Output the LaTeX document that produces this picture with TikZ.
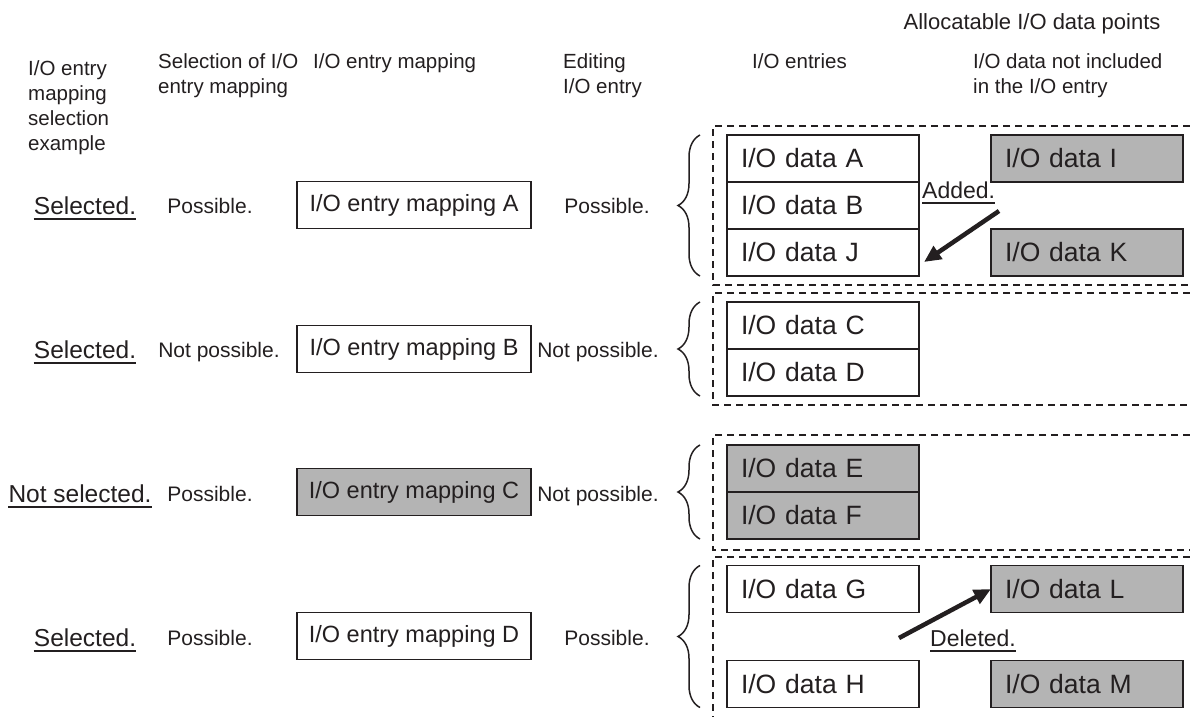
\documentclass[tikz,border=0pt]{standalone}
\usepackage{fontspec}
\setmainfont{Liberation Sans}
\usetikzlibrary{positioning,arrows.meta,decorations.pathreplacing}

\definecolor{ink}{RGB}{35,31,32}
\definecolor{boxgray}{RGB}{180,180,180}

\begin{document}
\begin{tikzpicture}[
    x=1pt, y=-1pt,
    databox/.style={rectangle, draw=ink, line width=1.3pt, fill=white, outer sep=0pt, minimum height=47pt, text width=164pt, inner xsep=14pt, inner ysep=0pt, align=left, text=ink, font=\fontsize{26.5}{30}\selectfont},
    greybox/.style={databox, fill=boxgray},
    mapbox/.style={rectangle, draw=ink, line width=1.3pt, fill=white, minimum width=234pt, minimum height=47pt, inner sep=0pt, text=ink, font=\fontsize{23.5}{27}\selectfont},
    head/.style={anchor=north west, align=left, inner sep=0pt, text=ink, font=\fontsize{20.5}{25}\selectfont},
    note/.style={anchor=base, inner sep=0pt, text=ink, font=\fontsize{21}{25}\selectfont},
    underlined/.style={append after command={([yshift=-5pt]\tikzlastnode.base west) edge[draw=ink, line width=1.6pt] ([yshift=-5pt]\tikzlastnode.base east)}},
    choice/.style={anchor=base, inner sep=0pt, text=ink, font=\fontsize{24.5}{29}\selectfont, underlined},
    remark/.style={anchor=base west, inner sep=0pt, text=ink, font=\fontsize{23}{28}\selectfont, underlined},
    frame/.style={draw=ink, line width=1.5pt, dash pattern=on 7pt off 5pt},
    curly/.style={draw=ink, line width=1.5pt, decorate, decoration={brace, amplitude=22pt}},
    bigarrow/.style={draw=ink, line width=4.5pt, -{Triangle[length=17pt,width=15pt]}}
]
    \useasboundingbox (0,0) rectangle (1190,717);

    % Headers
    \node [anchor=base, inner sep=0pt, text=ink, font=\fontsize{22}{26}\selectfont] (hdalloc) at (1032,30) {Allocatable I/O data points};
    \node [head] (hdsel) at (28,60) {I/O entry\\mapping\\selection\\example};
    \node [head] (hdchoice) at (158,53) {Selection of I/O\\entry mapping};
    \node [head] (hdmap) at (313,53) {I/O entry mapping};
    \node [head] (hdedit) at (563,53) {Editing\\I/O entry};
    \node [head] (hdentries) at (752,53) {I/O entries};
    \node [head] (hdfree) at (973,53) {I/O data not included\\in the I/O entry};

    % Left columns
    \node [choice] (sel1) at (85,214) {Selected.};
    \node [choice] (sel2) at (85,358) {Selected.};
    \node [choice] (sel3) at (80,502) {Not selected.};
    \node [choice] (sel4) at (85,646) {Selected.};

    \node [note] (pick1) at (210,213) {Possible.};
    \node [note] (pick2) at (219,357) {Not possible.};
    \node [note] (pick3) at (210,501) {Possible.};
    \node [note] (pick4) at (210,645) {Possible.};

    \node [mapbox] (mapA) at (414,205) {I/O entry mapping A};
    \node [mapbox] (mapB) at (414,349) {I/O entry mapping B};
    \node [mapbox, fill=boxgray] (mapC) at (414,492) {I/O entry mapping C};
    \node [mapbox] (mapD) at (414,636) {I/O entry mapping D};

    \node [note] (edit1) at (607,213) {Possible.};
    \node [note] (edit2) at (598,357) {Not possible.};
    \node [note] (edit3) at (598,501) {Not possible.};
    \node [note] (edit4) at (607,645) {Possible.};

    % I/O entries
    \node [databox] (dataA) at (823,158.5) {I/O data A};
    \node [databox, below=0pt of dataA] (dataB) {I/O data B};
    \node [databox, below=0pt of dataB] (dataJ) {I/O data J};
    \node [databox] (dataC) at (823,325.5) {I/O data C};
    \node [databox, below=0pt of dataC] (dataD) {I/O data D};
    \node [greybox] (dataE) at (823,468.5) {I/O data E};
    \node [greybox, below=0pt of dataE] (dataF) {I/O data F};
    \node [databox] (dataG) at (823,589) {I/O data G};
    \node [databox, below=48pt of dataG] (dataH) {I/O data H};

    % I/O data outside the entries
    \node [greybox, right=72pt of dataA] (dataI) {I/O data I};
    \node [greybox, right=72pt of dataJ] (dataK) {I/O data K};
    \node [greybox, right=72pt of dataG] (dataL) {I/O data L};
    \node [greybox, right=72pt of dataH] (dataM) {I/O data M};

    \node [remark] (added) at (922,198) {Added.};
    \node [remark] (deleted) at (930,646) {Deleted.};

    % Dashed frames
    \draw [frame] (1190,126) -| (713,285) -- (1190,285);
    \draw [frame] (1190,293) -| (713,405) -- (1190,405);
    \draw [frame] (1190,435) -| (713,550) -- (1190,550);
    \draw [frame] (1190,557) -| (713,717);

    % Braces
    \draw [curly] ([xshift=-27pt]dataJ.south west) -- ([xshift=-27pt]dataA.north west);
    \draw [curly] ([xshift=-27pt]dataD.south west) -- ([xshift=-27pt]dataC.north west);
    \draw [curly] ([xshift=-27pt]dataF.south west) -- ([xshift=-27pt]dataE.north west);
    \draw [curly] ([xshift=-27pt]dataH.south west) -- ([xshift=-27pt]dataG.north west);

    % Arrows
    \coordinate (addtail) at (999,211);
    \coordinate (addtip) at (924,262);
    \coordinate (deltail) at (899,638);
    \draw [bigarrow] (addtail) -- (addtip);
    \draw [bigarrow] (deltail) -- (dataL.west);
\end{tikzpicture}
\end{document}
